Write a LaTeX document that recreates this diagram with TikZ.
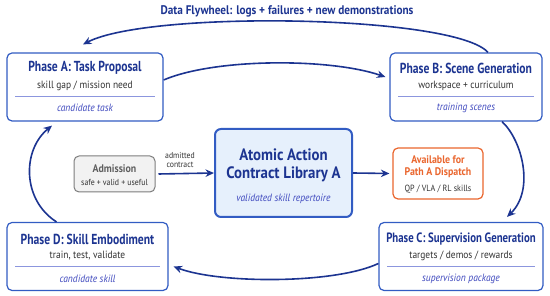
\documentclass[tikz,border=0pt]{standalone}
\usepackage{fontspec}
\setmainfont{PT Sans}[FakeStretch=0.9]
\newfontfamily\condsans{PT Sans}[FakeStretch=0.8]
\usetikzlibrary{arrows.meta,positioning}
\definecolor{navy}{RGB}{28,52,145}
\definecolor{boxblue}{RGB}{50,92,195}
\definecolor{italblue}{RGB}{62,72,190}
\definecolor{rulecol}{RGB}{140,150,222}
\definecolor{libfill}{RGB}{230,240,252}
\definecolor{admfill}{RGB}{242,242,242}
\definecolor{admline}{RGB}{125,125,125}
\definecolor{admtext}{RGB}{95,95,95}
\definecolor{dispatch}{RGB}{234,102,46}
\definecolor{textgray}{RGB}{50,50,50}
\begin{document}
\begin{tikzpicture}[x=1pt,y=-1pt,
    every node/.style={inner sep=0pt},
    phase/.style={draw=boxblue, line width=1.2pt, rounded corners=5pt, fill=white, minimum height=68pt},
    ttl/.style={font=\condsans\bfseries\fontsize{14.5}{16}\selectfont, text=navy},
    subtxt/.style={font=\fontsize{10.5}{12}\selectfont, text=textgray},
    yield/.style={font=\itshape\fontsize{10.6}{12}\selectfont, text=italblue},
    divider/.style={rulecol, line width=1pt},
    flow/.style={navy, line width=1.6pt, -{Stealth[length=8.5pt,width=7.5pt]}}]
  \useasboundingbox (0,0) rectangle (550,296);

  % phase boxes
  \node[phase, minimum width=156pt] (A) at (85,87) {};
  \node[ttl] (At) at (85,68) {Phase A: Task Proposal};
  \node[subtxt] (As) at (85,86) {skill gap / mission need};
  \draw[divider] (15,97) -- (155,97);
  \node[yield] (Ao) at (85,108) {candidate task};

  \node[phase, minimum width=152pt] (B) at (466,87) {};
  \node[ttl] (Bt) at (466,68) {Phase B: Scene Generation};
  \node[subtxt] (Bs) at (466,86) {workspace + curriculum};
  \draw[divider] (398,97) -- (534,97);
  \node[yield] (Bo) at (466,108) {training scenes};

  \node[phase, minimum width=164pt] (C) at (461,256.5) {};
  \node[ttl, font=\condsans\bfseries\fontsize{13.5}{16}\selectfont] (Ct) at (461,239) {Phase C: Supervision Generation};
  \node[subtxt] (Cs) at (461,256) {targets / demos / rewards};
  \draw[divider] (387,267) -- (535,267);
  \node[yield] (Co) at (461,279) {supervision package};

  \node[phase, minimum width=161pt] (D) at (87.5,256.5) {};
  \node[ttl] (Dt) at (87.5,239) {Phase D: Skill Embodiment};
  \node[subtxt] (Ds) at (87.5,256) {train, test, validate};
  \draw[divider] (15,267) -- (160,267);
  \node[yield] (Do) at (87.5,279) {candidate skill};

  % library and side boxes
  \node[draw=boxblue, line width=2pt, rounded corners=6pt, fill=libfill,
    minimum width=137pt, minimum height=88pt] (L) at (283.5,173) {};
  \node[font=\bfseries\fontsize{16.5}{19}\selectfont, text=navy] (Lt1) at (283.5,155) {Atomic Action};
  \node[font=\bfseries\fontsize{16.5}{19}\selectfont, text=navy] (Lt2) at (283.5,174) {Contract Library A};
  \node[yield] (Lo) at (283.5,199) {validated skill repertoire};

  \node[draw=admline, line width=1pt, rounded corners=5pt, fill=admfill,
    minimum width=81pt, minimum height=36pt] (adm) at (114.5,174) {};
  \node[font=\bfseries\fontsize{11}{12}\selectfont, text=admtext] (admt) at (114.5,169) {Admission};
  \node[font=\fontsize{8.7}{10}\selectfont, text=textgray] (adms) at (114.5,182) {safe + valid + useful};

  \node[draw=dispatch, line width=1.2pt, rounded corners=5pt, fill=white,
    minimum width=90pt, minimum height=51pt] (avail) at (438,173.5) {};
  \node[font=\bfseries\fontsize{11}{13}\selectfont, text=dispatch] (av1) at (438,160) {Available for};
  \node[font=\bfseries\fontsize{11}{13}\selectfont, text=dispatch] (av2) at (438,173) {Path A Dispatch};
  \node[font=\fontsize{9}{11}\selectfont, text=textgray] (av3) at (438,189) {QP / VLA / RL skills};

  % cycle
  \node[font=\bfseries\fontsize{12.5}{14}\selectfont, text=navy] (fly) at (287,11)
    {Data Flywheel: logs + failures + new demonstrations};
  \draw[flow] ([xshift=22pt]B.north) .. controls (455,15) and (150,10) .. ([xshift=-2pt,yshift=8pt]A.north);
  \draw[flow] ([yshift=7pt]A.east) .. controls (215,58) and (330,58) .. ([xshift=-4pt,yshift=10pt]B.west);
  \draw[flow] ([xshift=36pt]B.south) .. controls (522,140) and (535,190) .. ([xshift=46pt,yshift=5pt]C.north);
  \draw[flow] ([yshift=-7pt]C.west) .. controls (335,284) and (220,284) .. ([xshift=5pt,yshift=-10pt]D.east);
  \draw[flow] ([xshift=-31pt]D.north) .. controls (22,200) and (22,150) .. ([xshift=-33pt,yshift=-4pt]A.south);

  % admission and dispatch
  \draw[flow] ([xshift=3pt]adm.east) -- (L.west);
  \node[font=\fontsize{8.6}{9.5}\selectfont, text=textgray, align=center] (admlbl) at (180,160) {admitted\\[-1pt]contract};
  \draw[flow] (L.east) -- ([xshift=-3pt]avail.west);
\end{tikzpicture}
\end{document}
